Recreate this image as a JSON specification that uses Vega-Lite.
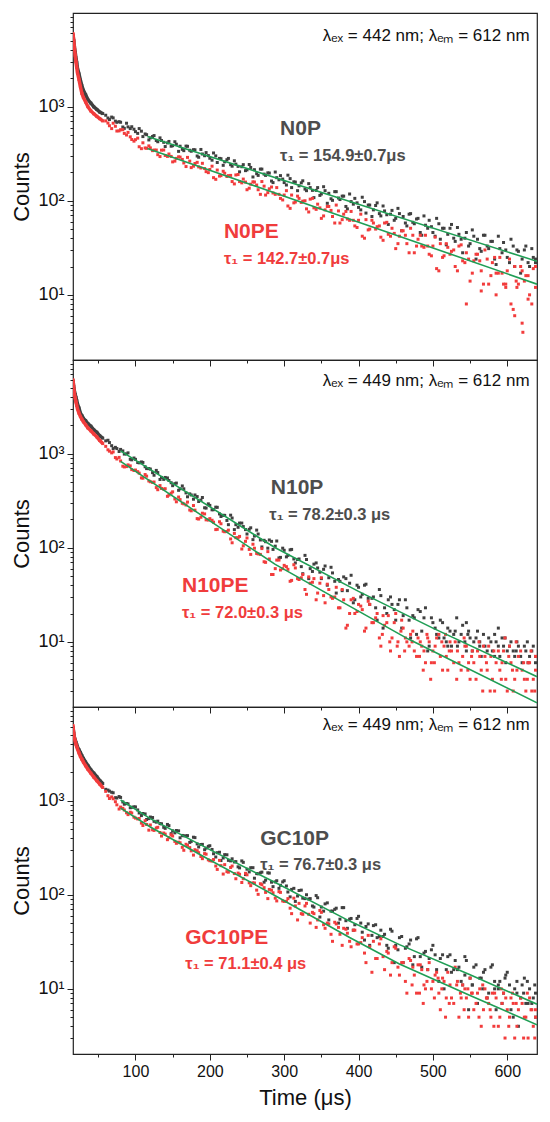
{
  "$schema": "https://vega.github.io/schema/vega-lite/v6.json",
  "background": "white",
  "padding": {"left": 10, "top": 7, "right": 5, "bottom": 5},
  "spacing": 0,
  "bounds": "flush",
  "config": {
    "font": "Liberation Sans",
    "view": {"stroke": "#222", "strokeWidth": 1.2},
    "axis": {"labelFont": "Liberation Sans", "titleFont": "Liberation Sans", "labelColor": "#111", "titleColor": "#111", "tickColor": "#222", "grid": false, "domain": false, "titleFontWeight": "normal", "labelOverlap": false}
  },
  "datasets": {
    "a": [
      {"t":16,"c":5800},{"t":17,"c":5020},{"t":18,"c":4280},{"t":19,"c":3770},{"t":20,"c":3290},{"t":21,"c":2950},{"t":22,"c":2590},{"t":24,"c":2230},{"t":26,"c":1910},{"t":28,"c":1660},{"t":30,"c":1490},{"t":33,"c":1340},{"t":36,"c":1190},{"t":40,"c":1090},{"t":44,"c":995},{"t":48,"c":935},{"t":52,"c":875},{"t":56,"c":845},
      {"t":60,"c":811},{"t":65,"c":730},{"t":70,"c":760},{"t":75,"c":682},{"t":80,"c":683},{"t":85,"c":588},{"t":90,"c":610},{"t":95,"c":612},{"t":100,"c":543},{"t":105,"c":585},{"t":110,"c":481},{"t":115,"c":504},{"t":120,"c":466},{"t":125,"c":493},{"t":130,"c":424},{"t":135,"c":437},{"t":140,"c":377},{"t":145,"c":427},{"t":150,"c":385},{"t":155,"c":399},{"t":160,"c":380},{"t":165,"c":341},{"t":170,"c":379},{"t":175,"c":336},{"t":180,"c":348},{"t":185,"c":290},{"t":190,"c":314},{"t":195,"c":325},{"t":200,"c":283},{"t":205,"c":322},{"t":210,"c":255},{"t":215,"c":280},{"t":220,"c":259},{"t":225,"c":282},{"t":230,"c":233},{"t":235,"c":245},{"t":240,"c":203},{"t":245,"c":242},{"t":250,"c":213},{"t":255,"c":226},{"t":260,"c":214},{"t":265,"c":186},{"t":270,"c":217},{"t":275,"c":186},{"t":280,"c":197},{"t":285,"c":156},{"t":290,"c":176},{"t":295,"c":185},{"t":300,"c":156},{"t":305,"c":187},{"t":310,"c":138},{"t":315,"c":158},{"t":320,"c":144},{"t":325,"c":163},{"t":330,"c":128},{"t":335,"c":138},{"t":340,"c":108},{"t":345,"c":138},{"t":350,"c":118},{"t":355,"c":128},{"t":360,"c":120},{"t":365,"c":101},{"t":370,"c":125},{"t":375,"c":103},{"t":380,"c":112},{"t":385,"c":82},{"t":390,"c":98},{"t":395,"c":106},{"t":400,"c":85},{"t":405,"c":109},{"t":410,"c":74},{"t":415,"c":90},{"t":420,"c":80},{"t":425,"c":95},{"t":430,"c":69},{"t":435,"c":78},{"t":440,"c":56},{"t":445,"c":79},{"t":450,"c":65},{"t":455,"c":73},{"t":460,"c":68},{"t":465,"c":54},{"t":470,"c":73},{"t":475,"c":57},{"t":480,"c":65},{"t":485,"c":43},{"t":490,"c":55},{"t":495,"c":62},{"t":500,"c":46},{"t":505,"c":65},{"t":510,"c":39},{"t":515,"c":51},{"t":520,"c":44},{"t":525,"c":56},{"t":530,"c":37},{"t":535,"c":44},{"t":540,"c":28},{"t":545,"c":46},{"t":550,"c":35},{"t":555,"c":42},{"t":560,"c":39},{"t":565,"c":29},{"t":570,"c":43},{"t":575,"c":31},{"t":580,"c":37},{"t":585,"c":21},{"t":590,"c":31},{"t":595,"c":36},{"t":600,"c":25},{"t":605,"c":39},{"t":610,"c":20},{"t":615,"c":29},{"t":620,"c":24},{"t":625,"c":33},{"t":630,"c":20},{"t":635,"c":25},{"t":638,"c":24},
      {"t":63,"c":758},{"t":68,"c":775},{"t":73,"c":702},{"t":78,"c":693},{"t":83,"c":608},{"t":88,"c":667},{"t":93,"c":585},{"t":98,"c":576},{"t":103,"c":520},{"t":108,"c":549},{"t":113,"c":513},{"t":118,"c":443},{"t":123,"c":482},{"t":128,"c":437},{"t":133,"c":466},{"t":138,"c":418},{"t":143,"c":412},{"t":148,"c":380},{"t":153,"c":424},{"t":158,"c":335},{"t":163,"c":352},{"t":168,"c":381},{"t":173,"c":344},{"t":178,"c":349},{"t":183,"c":299},{"t":188,"c":351},{"t":193,"c":301},{"t":198,"c":302},{"t":203,"c":270},{"t":208,"c":300},{"t":213,"c":282},{"t":218,"c":238},{"t":223,"c":273},{"t":228,"c":242},{"t":233,"c":266},{"t":238,"c":232},{"t":243,"c":230},{"t":248,"c":209},{"t":253,"c":243},{"t":258,"c":179},{"t":263,"c":194},{"t":268,"c":217},{"t":273,"c":192},{"t":278,"c":198},{"t":283,"c":162},{"t":288,"c":202},{"t":293,"c":167},{"t":298,"c":170},{"t":303,"c":147},{"t":308,"c":172},{"t":313,"c":159},{"t":318,"c":128},{"t":323,"c":155},{"t":328,"c":133},{"t":333,"c":152},{"t":338,"c":129},{"t":343,"c":129},{"t":348,"c":114},{"t":353,"c":141},{"t":358,"c":94},{"t":363,"c":105},{"t":368,"c":125},{"t":373,"c":107},{"t":378,"c":112},{"t":383,"c":87},{"t":388,"c":118},{"t":393,"c":92},{"t":398,"c":95},{"t":403,"c":80},{"t":408,"c":98},{"t":413,"c":90},{"t":418,"c":68},{"t":423,"c":89},{"t":428,"c":73},{"t":433,"c":88},{"t":438,"c":71},{"t":443,"c":72},{"t":448,"c":62},{"t":453,"c":83},{"t":458,"c":48},{"t":463,"c":58},{"t":468,"c":72},{"t":473,"c":59},{"t":478,"c":64},{"t":483,"c":46},{"t":488,"c":69},{"t":493,"c":51},{"t":498,"c":53},{"t":503,"c":42},{"t":508,"c":57},{"t":513,"c":51},{"t":518,"c":34},{"t":523,"c":51},{"t":528,"c":40},{"t":533,"c":52},{"t":538,"c":39},{"t":543,"c":40},{"t":548,"c":33},{"t":553,"c":49},{"t":558,"c":24},{"t":563,"c":31},{"t":568,"c":43},{"t":573,"c":33},{"t":578,"c":37},{"t":583,"c":24},{"t":588,"c":42},{"t":593,"c":28},{"t":598,"c":30},{"t":603,"c":22},{"t":608,"c":33},{"t":613,"c":30},{"t":618,"c":17},{"t":623,"c":30},{"t":628,"c":22},{"t":633,"c":31},{"t":638,"c":22}
    ],
    "b": [
      {"t":16,"c":6000},{"t":17,"c":5000},{"t":18,"c":4200},{"t":19,"c":3500},{"t":20,"c":3000},{"t":21,"c":2620},{"t":22,"c":2300},{"t":24,"c":1950},{"t":26,"c":1620},{"t":28,"c":1380},{"t":30,"c":1250},{"t":33,"c":1120},{"t":36,"c":1000},{"t":40,"c":900},{"t":44,"c":840},{"t":48,"c":790},{"t":52,"c":745},{"t":56,"c":705},
      {"t":60,"c":706},{"t":65,"c":627},{"t":70,"c":667},{"t":75,"c":551},{"t":80,"c":569},{"t":85,"c":520},{"t":90,"c":533},{"t":95,"c":448},{"t":100,"c":446},{"t":105,"c":375},{"t":110,"c":413},{"t":115,"c":361},{"t":120,"c":365},{"t":125,"c":346},{"t":130,"c":309},{"t":135,"c":345},{"t":140,"c":303},{"t":145,"c":314},{"t":150,"c":259},{"t":155,"c":282},{"t":160,"c":291},{"t":165,"c":252},{"t":170,"c":289},{"t":175,"c":225},{"t":180,"c":249},{"t":185,"c":229},{"t":190,"c":250},{"t":195,"c":204},{"t":200,"c":215},{"t":205,"c":176},{"t":210,"c":212},{"t":215,"c":185},{"t":220,"c":196},{"t":225,"c":185},{"t":230,"c":160},{"t":235,"c":188},{"t":240,"c":160},{"t":245,"c":170},{"t":250,"c":131},{"t":255,"c":150},{"t":260,"c":158},{"t":265,"c":131},{"t":270,"c":160},{"t":275,"c":115},{"t":280,"c":134},{"t":285,"c":121},{"t":290,"c":138},{"t":295,"c":106},{"t":300,"c":115},{"t":305,"c":88},{"t":310,"c":115},{"t":315,"c":97},{"t":320,"c":106},{"t":325,"c":99},{"t":330,"c":82},{"t":335,"c":104},{"t":340,"c":84},{"t":345,"c":92},{"t":350,"c":65},{"t":355,"c":80},{"t":360,"c":87},{"t":365,"c":68},{"t":370,"c":90},{"t":375,"c":58},{"t":380,"c":72},{"t":385,"c":64},{"t":390,"c":77},{"t":395,"c":54},{"t":400,"c":62},{"t":405,"c":42},{"t":410,"c":63},{"t":415,"c":50},{"t":420,"c":58},{"t":425,"c":53},{"t":430,"c":41},{"t":435,"c":58},{"t":440,"c":44},{"t":445,"c":51},{"t":450,"c":31},{"t":455,"c":42},{"t":460,"c":48},{"t":465,"c":35},{"t":470,"c":51},{"t":475,"c":28},{"t":480,"c":39},{"t":485,"c":33},{"t":490,"c":43},{"t":495,"c":27},{"t":500,"c":33},{"t":505,"c":19},{"t":510,"c":35},{"t":515,"c":26},{"t":520,"c":32},{"t":525,"c":29},{"t":530,"c":20},{"t":535,"c":33},{"t":540,"c":23},{"t":545,"c":28},{"t":550,"c":14},{"t":555,"c":23},{"t":560,"c":27},{"t":565,"c":18},{"t":570,"c":30},{"t":575,"c":13},{"t":580,"c":22},{"t":585,"c":17},{"t":590,"c":25},{"t":595,"c":13},{"t":600,"c":18},{"t":605,"c":8},{"t":610,"c":20},{"t":615,"c":13},{"t":620,"c":18},{"t":625,"c":16},{"t":630,"c":10},{"t":635,"c":19},{"t":638,"c":12},
      {"t":545,"c":8},{"t":610,"c":6},{"t":620,"c":5},{"t":621,"c":4},{"t":565,"c":11},{"t":585,"c":10},{"t":598,"c":12},{"t":628,"c":9},{"t":612,"c":14},
      {"t":63,"c":670},{"t":68,"c":585},{"t":73,"c":619},{"t":78,"c":553},{"t":83,"c":569},{"t":88,"c":500},{"t":93,"c":478},{"t":98,"c":430},{"t":103,"c":463},{"t":108,"c":358},{"t":113,"c":364},{"t":118,"c":383},{"t":123,"c":341},{"t":128,"c":346},{"t":133,"c":295},{"t":138,"c":346},{"t":143,"c":296},{"t":148,"c":296},{"t":153,"c":264},{"t":158,"c":293},{"t":163,"c":275},{"t":168,"c":231},{"t":173,"c":264},{"t":178,"c":233},{"t":183,"c":256},{"t":188,"c":223},{"t":193,"c":220},{"t":198,"c":199},{"t":203,"c":233},{"t":208,"c":169},{"t":213,"c":183},{"t":218,"c":206},{"t":223,"c":181},{"t":228,"c":186},{"t":233,"c":151},{"t":238,"c":190},{"t":243,"c":155},{"t":248,"c":158},{"t":253,"c":136},{"t":258,"c":159},{"t":263,"c":147},{"t":268,"c":117},{"t":273,"c":143},{"t":278,"c":122},{"t":283,"c":140},{"t":288,"c":117},{"t":293,"c":117},{"t":298,"c":102},{"t":303,"c":128},{"t":308,"c":83},{"t":313,"c":95},{"t":318,"c":112},{"t":323,"c":96},{"t":328,"c":100},{"t":333,"c":76},{"t":338,"c":106},{"t":343,"c":81},{"t":348,"c":84},{"t":353,"c":69},{"t":358,"c":87},{"t":363,"c":79},{"t":368,"c":58},{"t":373,"c":78},{"t":378,"c":63},{"t":383,"c":77},{"t":388,"c":62},{"t":393,"c":62},{"t":398,"c":52},{"t":403,"c":72},{"t":408,"c":40},{"t":413,"c":49},{"t":418,"c":62},{"t":423,"c":50},{"t":428,"c":54},{"t":433,"c":38},{"t":438,"c":59},{"t":443,"c":42},{"t":448,"c":45},{"t":453,"c":35},{"t":458,"c":48},{"t":463,"c":43},{"t":468,"c":28},{"t":473,"c":43},{"t":478,"c":33},{"t":483,"c":43},{"t":488,"c":32},{"t":493,"c":33},{"t":498,"c":26},{"t":503,"c":41},{"t":508,"c":18},{"t":513,"c":25},{"t":518,"c":35},{"t":523,"c":27},{"t":528,"c":30},{"t":533,"c":18},{"t":538,"c":34},{"t":543,"c":22},{"t":548,"c":24},{"t":553,"c":17},{"t":558,"c":27},{"t":563,"c":23},{"t":568,"c":13},{"t":573,"c":24},{"t":578,"c":16},{"t":583,"c":25},{"t":588,"c":17},{"t":593,"c":17},{"t":598,"c":13},{"t":603,"c":24},{"t":608,"c":7},{"t":613,"c":12},{"t":618,"c":20},{"t":623,"c":14},{"t":628,"c":16},{"t":633,"c":8},{"t":638,"c":20}
    ],
    "c": [
      {"t":16,"c":6000},{"t":17,"c":5150},{"t":18,"c":4580},{"t":19,"c":4270},{"t":20,"c":3960},{"t":21,"c":3660},{"t":22,"c":3390},{"t":24,"c":3060},{"t":26,"c":2690},{"t":28,"c":2530},{"t":30,"c":2370},{"t":33,"c":2240},{"t":36,"c":2090},{"t":40,"c":1960},{"t":44,"c":1790},{"t":48,"c":1690},{"t":52,"c":1550},{"t":56,"c":1460},
      {"t":60,"c":1369},{"t":65,"c":1312},{"t":70,"c":1133},{"t":75,"c":1133},{"t":80,"c":1110},{"t":85,"c":990},{"t":90,"c":1020},{"t":95,"c":860},{"t":100,"c":870},{"t":105,"c":799},{"t":110,"c":807},{"t":115,"c":694},{"t":120,"c":686},{"t":125,"c":590},{"t":130,"c":630},{"t":135,"c":559},{"t":140,"c":559},{"t":145,"c":519},{"t":150,"c":457},{"t":155,"c":487},{"t":160,"c":423},{"t":165,"c":423},{"t":170,"c":348},{"t":175,"c":364},{"t":180,"c":364},{"t":185,"c":310},{"t":190,"c":342},{"t":195,"c":264},{"t":200,"c":282},{"t":205,"c":254},{"t":210,"c":269},{"t":215,"c":215},{"t":220,"c":221},{"t":225,"c":176},{"t":230,"c":207},{"t":235,"c":176},{"t":240,"c":183},{"t":245,"c":168},{"t":250,"c":140},{"t":255,"c":163},{"t":260,"c":133},{"t":265,"c":140},{"t":270,"c":102},{"t":275,"c":116},{"t":280,"c":121},{"t":285,"c":96},{"t":290,"c":118},{"t":295,"c":79},{"t":300,"c":94},{"t":305,"c":83},{"t":310,"c":96},{"t":315,"c":69},{"t":320,"c":76},{"t":325,"c":53},{"t":330,"c":75},{"t":335,"c":60},{"t":340,"c":67},{"t":345,"c":61},{"t":350,"c":47},{"t":355,"c":64},{"t":360,"c":48},{"t":365,"c":54},{"t":370,"c":33},{"t":375,"c":44},{"t":380,"c":49},{"t":385,"c":35},{"t":390,"c":51},{"t":395,"c":28},{"t":400,"c":38},{"t":405,"c":32},{"t":410,"c":41},{"t":415,"c":25},{"t":420,"c":30},{"t":425,"c":17},{"t":430,"c":31},{"t":435,"c":23},{"t":440,"c":28},{"t":445,"c":25},{"t":450,"c":17},{"t":455,"c":28},{"t":460,"c":19},{"t":465,"c":23},{"t":470,"c":11},{"t":475,"c":18},{"t":480,"c":22},{"t":485,"c":13},{"t":490,"c":23},{"t":495,"c":9},{"t":500,"c":16},{"t":505,"c":12},{"t":510,"c":17},{"t":515,"c":11},{"t":520,"c":14},{"t":525,"c":9},{"t":530,"c":13},{"t":535,"c":10},{"t":540,"c":15},{"t":545,"c":8},{"t":550,"c":11},{"t":555,"c":10},{"t":560,"c":13},{"t":565,"c":7},{"t":570,"c":9},{"t":575,"c":11},{"t":580,"c":8},{"t":585,"c":10},{"t":590,"c":7},{"t":595,"c":9},{"t":600,"c":8},{"t":605,"c":10},{"t":610,"c":7},{"t":615,"c":9},{"t":620,"c":6},{"t":625,"c":8},{"t":630,"c":7},{"t":635,"c":9},{"t":638,"c":6},
      {"t":520,"c":9},{"t":547,"c":12},{"t":563,"c":10},{"t":583,"c":12},{"t":597,"c":11},{"t":612,"c":8},{"t":627,"c":10},{"t":545,"c":16},{"t":588,"c":14},{"t":532,"c":18},
      {"t":63,"c":1389},{"t":68,"c":1216},{"t":73,"c":1167},{"t":78,"c":1055},{"t":83,"c":1070},{"t":88,"c":994},{"t":93,"c":871},{"t":98,"c":899},{"t":103,"c":806},{"t":108,"c":817},{"t":113,"c":726},{"t":118,"c":694},{"t":123,"c":629},{"t":128,"c":664},{"t":133,"c":532},{"t":138,"c":533},{"t":143,"c":552},{"t":148,"c":491},{"t":153,"c":480},{"t":158,"c":408},{"t":163,"c":454},{"t":168,"c":383},{"t":173,"c":374},{"t":178,"c":328},{"t":183,"c":350},{"t":188,"c":321},{"t":193,"c":266},{"t":198,"c":293},{"t":203,"c":253},{"t":208,"c":270},{"t":213,"c":229},{"t":218,"c":221},{"t":223,"c":195},{"t":228,"c":222},{"t":233,"c":156},{"t":238,"c":165},{"t":243,"c":183},{"t":248,"c":156},{"t":253,"c":157},{"t":258,"c":122},{"t":263,"c":154},{"t":268,"c":121},{"t":273,"c":120},{"t":278,"c":99},{"t":283,"c":117},{"t":288,"c":104},{"t":293,"c":78},{"t":298,"c":99},{"t":303,"c":80},{"t":308,"c":95},{"t":313,"c":76},{"t":318,"c":75},{"t":323,"c":63},{"t":328,"c":83},{"t":333,"c":47},{"t":338,"c":56},{"t":343,"c":69},{"t":348,"c":55},{"t":353,"c":59},{"t":358,"c":40},{"t":363,"c":62},{"t":368,"c":44},{"t":373,"c":46},{"t":378,"c":35},{"t":383,"c":47},{"t":388,"c":42},{"t":393,"c":26},{"t":398,"c":40},{"t":403,"c":30},{"t":408,"c":40},{"t":413,"c":29},{"t":418,"c":29},{"t":423,"c":23},{"t":428,"c":36},{"t":433,"c":14},{"t":438,"c":20},{"t":443,"c":30},{"t":448,"c":22},{"t":453,"c":25},{"t":458,"c":14},{"t":463,"c":28},{"t":468,"c":17},{"t":473,"c":19},{"t":478,"c":12},{"t":483,"c":21},{"t":488,"c":18},{"t":493,"c":8},{"t":498,"c":18},{"t":503,"c":14},{"t":508,"c":11},{"t":513,"c":16},{"t":518,"c":10},{"t":523,"c":13},{"t":528,"c":12},{"t":533,"c":9},{"t":538,"c":12},{"t":543,"c":10},{"t":548,"c":13},{"t":553,"c":8},{"t":558,"c":11},{"t":563,"c":9},{"t":568,"c":12},{"t":573,"c":8},{"t":578,"c":10},{"t":583,"c":7},{"t":588,"c":9},{"t":593,"c":11},{"t":598,"c":6},{"t":603,"c":9},{"t":608,"c":8},{"t":613,"c":10},{"t":618,"c":7},{"t":623,"c":9},{"t":628,"c":6},{"t":633,"c":8},{"t":638,"c":7}
    ],
    "d": [
      {"t":16,"c":6100},{"t":17,"c":5000},{"t":18,"c":4300},{"t":19,"c":3900},{"t":20,"c":3550},{"t":21,"c":3250},{"t":22,"c":3000},{"t":24,"c":2700},{"t":26,"c":2480},{"t":28,"c":2320},{"t":30,"c":2180},{"t":33,"c":2030},{"t":36,"c":1880},{"t":40,"c":1750},{"t":44,"c":1620},{"t":48,"c":1510},{"t":52,"c":1380},{"t":56,"c":1280},
      {"t":60,"c":1196},{"t":65,"c":1063},{"t":70,"c":1044},{"t":75,"c":878},{"t":80,"c":837},{"t":85,"c":723},{"t":90,"c":760},{"t":95,"c":677},{"t":100,"c":670},{"t":105,"c":621},{"t":110,"c":549},{"t":115,"c":577},{"t":120,"c":503},{"t":125,"c":500},{"t":130,"c":414},{"t":135,"c":427},{"t":140,"c":424},{"t":145,"c":363},{"t":150,"c":393},{"t":155,"c":308},{"t":160,"c":325},{"t":165,"c":293},{"t":170,"c":306},{"t":175,"c":247},{"t":180,"c":251},{"t":185,"c":202},{"t":190,"c":233},{"t":195,"c":198},{"t":200,"c":204},{"t":205,"c":187},{"t":210,"c":157},{"t":215,"c":180},{"t":220,"c":148},{"t":225,"c":154},{"t":230,"c":113},{"t":235,"c":128},{"t":240,"c":132},{"t":245,"c":105},{"t":250,"c":127},{"t":255,"c":85},{"t":260,"c":99},{"t":265,"c":86},{"t":270,"c":98},{"t":275,"c":70},{"t":280,"c":76},{"t":285,"c":52},{"t":290,"c":74},{"t":295,"c":58},{"t":300,"c":65},{"t":305,"c":59},{"t":310,"c":45},{"t":315,"c":61},{"t":320,"c":46},{"t":325,"c":52},{"t":330,"c":32},{"t":335,"c":42},{"t":340,"c":47},{"t":345,"c":33},{"t":350,"c":48},{"t":355,"c":26},{"t":360,"c":36},{"t":365,"c":29},{"t":370,"c":38},{"t":375,"c":23},{"t":380,"c":28},{"t":385,"c":15},{"t":390,"c":28},{"t":395,"c":20},{"t":400,"c":25},{"t":405,"c":22},{"t":410,"c":14},{"t":415,"c":25},{"t":420,"c":16},{"t":425,"c":20},{"t":430,"c":9},{"t":435,"c":15},{"t":440,"c":19},{"t":445,"c":11},{"t":450,"c":20},{"t":455,"c":7},{"t":460,"c":14},{"t":465,"c":10},{"t":470,"c":12},{"t":475,"c":8},{"t":480,"c":11},{"t":485,"c":9},{"t":490,"c":6},{"t":495,"c":10},{"t":500,"c":8},{"t":505,"c":11},{"t":510,"c":7},{"t":515,"c":9},{"t":520,"c":5},{"t":525,"c":8},{"t":530,"c":10},{"t":535,"c":6},{"t":540,"c":7},{"t":545,"c":9},{"t":550,"c":4},{"t":555,"c":6},{"t":560,"c":8},{"t":565,"c":5},{"t":570,"c":7},{"t":575,"c":9},{"t":580,"c":4},{"t":585,"c":6},{"t":590,"c":5},{"t":595,"c":8},{"t":600,"c":3},{"t":605,"c":6},{"t":610,"c":4},{"t":615,"c":7},{"t":620,"c":5},{"t":625,"c":3},{"t":630,"c":6},{"t":635,"c":4},{"t":638,"c":5},
      {"t":432,"c":12},{"t":442,"c":10},{"t":452,"c":9},{"t":462,"c":8},{"t":472,"c":10},{"t":482,"c":7},{"t":492,"c":12},{"t":502,"c":6},{"t":512,"c":10},{"t":522,"c":8},{"t":532,"c":4},{"t":542,"c":11},{"t":552,"c":7},{"t":562,"c":10},{"t":572,"c":6},{"t":582,"c":8},{"t":592,"c":4},{"t":602,"c":7},{"t":612,"c":10},{"t":622,"c":6},{"t":632,"c":8},{"t":457,"c":13},{"t":487,"c":5},{"t":517,"c":12},{"t":547,"c":5},{"t":577,"c":3},{"t":607,"c":5},{"t":637,"c":3},{"t":497,"c":4},{"t":567,"c":3},{"t":627,"c":4},{"t":597,"c":11},
      {"t":63,"c":1100},{"t":68,"c":1020},{"t":73,"c":909},{"t":78,"c":913},{"t":83,"c":736},{"t":88,"c":729},{"t":93,"c":742},{"t":98,"c":662},{"t":103,"c":644},{"t":108,"c":553},{"t":113,"c":600},{"t":118,"c":513},{"t":123,"c":495},{"t":128,"c":436},{"t":133,"c":458},{"t":138,"c":420},{"t":143,"c":352},{"t":148,"c":380},{"t":153,"c":330},{"t":158,"c":346},{"t":163,"c":297},{"t":168,"c":285},{"t":173,"c":252},{"t":178,"c":281},{"t":183,"c":204},{"t":188,"c":211},{"t":193,"c":229},{"t":198,"c":197},{"t":203,"c":196},{"t":208,"c":156},{"t":213,"c":189},{"t":218,"c":150},{"t":223,"c":149},{"t":228,"c":124},{"t":233,"c":142},{"t":238,"c":128},{"t":243,"c":97},{"t":248,"c":117},{"t":253,"c":96},{"t":258,"c":109},{"t":263,"c":87},{"t":268,"c":85},{"t":273,"c":71},{"t":278,"c":91},{"t":283,"c":52},{"t":288,"c":60},{"t":293,"c":74},{"t":298,"c":60},{"t":303,"c":63},{"t":308,"c":44},{"t":313,"c":66},{"t":318,"c":47},{"t":323,"c":48},{"t":328,"c":36},{"t":333,"c":49},{"t":338,"c":43},{"t":343,"c":28},{"t":348,"c":42},{"t":353,"c":31},{"t":358,"c":41},{"t":363,"c":30},{"t":368,"c":30},{"t":373,"c":23},{"t":378,"c":36},{"t":383,"c":14},{"t":388,"c":20},{"t":393,"c":29},{"t":398,"c":21},{"t":403,"c":24},{"t":408,"c":13},{"t":413,"c":27},{"t":418,"c":16},{"t":423,"c":18},{"t":428,"c":11},{"t":433,"c":19},{"t":438,"c":16},{"t":443,"c":8},{"t":448,"c":16},{"t":453,"c":10},{"t":458,"c":17},{"t":463,"c":11},{"t":468,"c":9},{"t":473,"c":13},{"t":478,"c":7},{"t":483,"c":10},{"t":488,"c":8},{"t":493,"c":11},{"t":498,"c":6},{"t":503,"c":9},{"t":508,"c":12},{"t":513,"c":5},{"t":518,"c":7},{"t":523,"c":10},{"t":528,"c":6},{"t":533,"c":8},{"t":538,"c":5},{"t":543,"c":9},{"t":548,"c":6},{"t":553,"c":8},{"t":558,"c":4},{"t":563,"c":7},{"t":568,"c":9},{"t":573,"c":5},{"t":578,"c":7},{"t":583,"c":3},{"t":588,"c":8},{"t":593,"c":6},{"t":598,"c":4},{"t":603,"c":9},{"t":608,"c":3},{"t":613,"c":5},{"t":618,"c":8},{"t":623,"c":4},{"t":628,"c":6},{"t":633,"c":3},{"t":638,"c":7}
    ],
    "e": [
      {"t":16,"c":6000},{"t":17,"c":5200},{"t":18,"c":4700},{"t":19,"c":4400},{"t":20,"c":4170},{"t":21,"c":3950},{"t":22,"c":3750},{"t":24,"c":3480},{"t":26,"c":3240},{"t":28,"c":3000},{"t":30,"c":2810},{"t":33,"c":2570},{"t":36,"c":2370},{"t":40,"c":2130},{"t":44,"c":1960},{"t":48,"c":1800},{"t":52,"c":1640},{"t":56,"c":1520},
      {"t":60,"c":1320},{"t":65,"c":1263},{"t":70,"c":1213},{"t":75,"c":1068},{"t":80,"c":1083},{"t":85,"c":917},{"t":90,"c":925},{"t":95,"c":851},{"t":100,"c":858},{"t":105,"c":740},{"t":110,"c":731},{"t":115,"c":631},{"t":120,"c":670},{"t":125,"c":603},{"t":130,"c":606},{"t":135,"c":568},{"t":140,"c":508},{"t":145,"c":543},{"t":150,"c":478},{"t":155,"c":482},{"t":160,"c":403},{"t":165,"c":423},{"t":170,"c":425},{"t":175,"c":369},{"t":180,"c":405},{"t":185,"c":322},{"t":190,"c":343},{"t":195,"c":313},{"t":200,"c":332},{"t":205,"c":273},{"t":210,"c":280},{"t":215,"c":231},{"t":220,"c":267},{"t":225,"c":232},{"t":230,"c":241},{"t":235,"c":225},{"t":240,"c":193},{"t":245,"c":221},{"t":250,"c":187},{"t":255,"c":194},{"t":260,"c":150},{"t":265,"c":167},{"t":270,"c":174},{"t":275,"c":143},{"t":280,"c":170},{"t":285,"c":122},{"t":290,"c":141},{"t":295,"c":126},{"t":300,"c":141},{"t":305,"c":107},{"t":310,"c":114},{"t":315,"c":85},{"t":320,"c":111},{"t":325,"c":92},{"t":330,"c":100},{"t":335,"c":91},{"t":340,"c":74},{"t":345,"c":93},{"t":350,"c":74},{"t":355,"c":80},{"t":360,"c":54},{"t":365,"c":67},{"t":370,"c":72},{"t":375,"c":55},{"t":380,"c":73},{"t":385,"c":44},{"t":390,"c":56},{"t":395,"c":48},{"t":400,"c":59},{"t":405,"c":40},{"t":410,"c":46},{"t":415,"c":29},{"t":420,"c":47},{"t":425,"c":35},{"t":430,"c":42},{"t":435,"c":38},{"t":440,"c":27},{"t":445,"c":41},{"t":450,"c":29},{"t":455,"c":35},{"t":460,"c":19},{"t":465,"c":28},{"t":470,"c":33},{"t":475,"c":22},{"t":480,"c":35},{"t":485,"c":17},{"t":490,"c":25},{"t":495,"c":21},{"t":500,"c":29},{"t":505,"c":16},{"t":510,"c":21},{"t":515,"c":10},{"t":520,"c":22},{"t":525,"c":15},{"t":530,"c":20},{"t":535,"c":17},{"t":540,"c":11},{"t":545,"c":20},{"t":550,"c":13},{"t":555,"c":17},{"t":560,"c":7},{"t":565,"c":13},{"t":570,"c":16},{"t":575,"c":9},{"t":580,"c":18},{"t":585,"c":6},{"t":590,"c":12},{"t":595,"c":9},{"t":600,"c":15},{"t":605,"c":6},{"t":610,"c":10},{"t":615,"c":4},{"t":620,"c":11},{"t":625,"c":7},{"t":630,"c":10},{"t":635,"c":8},{"t":638,"c":9},
      {"t":553,"c":11},{"t":567,"c":10},{"t":583,"c":12},{"t":597,"c":13},{"t":613,"c":9},{"t":627,"c":12},{"t":637,"c":11},{"t":543,"c":14},{"t":588,"c":10},{"t":622,"c":9},
      {"t":63,"c":1296},{"t":68,"c":1229},{"t":73,"c":1075},{"t":78,"c":1106},{"t":83,"c":969},{"t":88,"c":934},{"t":93,"c":841},{"t":98,"c":860},{"t":103,"c":797},{"t":108,"c":694},{"t":113,"c":723},{"t":118,"c":645},{"t":123,"c":662},{"t":128,"c":591},{"t":133,"c":570},{"t":138,"c":521},{"t":143,"c":559},{"t":148,"c":446},{"t":153,"c":455},{"t":158,"c":478},{"t":163,"c":427},{"t":168,"c":423},{"t":173,"c":360},{"t":178,"c":409},{"t":183,"c":347},{"t":188,"c":342},{"t":193,"c":301},{"t":198,"c":327},{"t":203,"c":303},{"t":208,"c":252},{"t":213,"c":283},{"t":218,"c":246},{"t":223,"c":266},{"t":228,"c":229},{"t":233,"c":223},{"t":238,"c":198},{"t":243,"c":229},{"t":248,"c":164},{"t":253,"c":175},{"t":258,"c":194},{"t":263,"c":168},{"t":268,"c":171},{"t":273,"c":136},{"t":278,"c":171},{"t":283,"c":136},{"t":288,"c":137},{"t":293,"c":117},{"t":298,"c":137},{"t":303,"c":124},{"t":308,"c":95},{"t":313,"c":117},{"t":318,"c":97},{"t":323,"c":112},{"t":328,"c":91},{"t":333,"c":90},{"t":338,"c":76},{"t":343,"c":98},{"t":348,"c":58},{"t":353,"c":67},{"t":358,"c":82},{"t":363,"c":67},{"t":368,"c":70},{"t":373,"c":50},{"t":378,"c":73},{"t":383,"c":53},{"t":388,"c":55},{"t":393,"c":42},{"t":398,"c":56},{"t":403,"c":50},{"t":408,"c":33},{"t":413,"c":49},{"t":418,"c":37},{"t":423,"c":48},{"t":428,"c":36},{"t":433,"c":36},{"t":438,"c":29},{"t":443,"c":43},{"t":448,"c":19},{"t":453,"c":26},{"t":458,"c":36},{"t":463,"c":27},{"t":468,"c":30},{"t":473,"c":18},{"t":478,"c":34},{"t":483,"c":22},{"t":488,"c":24},{"t":493,"c":16},{"t":498,"c":26},{"t":503,"c":23},{"t":508,"c":12},{"t":513,"c":23},{"t":518,"c":16},{"t":523,"c":23},{"t":528,"c":16},{"t":533,"c":16},{"t":538,"c":12},{"t":543,"c":22},{"t":548,"c":6},{"t":553,"c":11},{"t":558,"c":18},{"t":563,"c":13},{"t":568,"c":15},{"t":573,"c":8},{"t":578,"c":17},{"t":583,"c":10},{"t":588,"c":11},{"t":593,"c":7},{"t":598,"c":14},{"t":603,"c":11},{"t":608,"c":5},{"t":613,"c":12},{"t":618,"c":8},{"t":623,"c":13},{"t":628,"c":7},{"t":633,"c":7},{"t":638,"c":5}
    ],
    "f": [
      {"t":16,"c":6300},{"t":17,"c":5200},{"t":18,"c":4650},{"t":19,"c":4300},{"t":20,"c":3980},{"t":21,"c":3750},{"t":22,"c":3550},{"t":24,"c":3230},{"t":26,"c":2950},{"t":28,"c":2750},{"t":30,"c":2570},{"t":33,"c":2350},{"t":36,"c":2160},{"t":40,"c":1960},{"t":44,"c":1780},{"t":48,"c":1630},{"t":52,"c":1500},{"t":56,"c":1380},
      {"t":60,"c":1256},{"t":65,"c":1055},{"t":70,"c":1048},{"t":75,"c":903},{"t":80,"c":855},{"t":85,"c":796},{"t":90,"c":711},{"t":95,"c":740},{"t":100,"c":653},{"t":105,"c":647},{"t":110,"c":545},{"t":115,"c":558},{"t":120,"c":552},{"t":125,"c":483},{"t":130,"c":521},{"t":135,"c":421},{"t":140,"c":441},{"t":145,"c":404},{"t":150,"c":421},{"t":155,"c":352},{"t":160,"c":357},{"t":165,"c":297},{"t":170,"c":335},{"t":175,"c":293},{"t":180,"c":301},{"t":185,"c":280},{"t":190,"c":242},{"t":195,"c":270},{"t":200,"c":230},{"t":205,"c":237},{"t":210,"c":186},{"t":215,"c":204},{"t":220,"c":209},{"t":225,"c":174},{"t":230,"c":202},{"t":235,"c":148},{"t":240,"c":165},{"t":245,"c":148},{"t":250,"c":163},{"t":255,"c":125},{"t":260,"c":133},{"t":265,"c":101},{"t":270,"c":128},{"t":275,"c":106},{"t":280,"c":114},{"t":285,"c":105},{"t":290,"c":86},{"t":295,"c":106},{"t":300,"c":85},{"t":305,"c":91},{"t":310,"c":63},{"t":315,"c":76},{"t":320,"c":81},{"t":325,"c":62},{"t":330,"c":81},{"t":335,"c":50},{"t":340,"c":63},{"t":345,"c":54},{"t":350,"c":65},{"t":355,"c":44},{"t":360,"c":49},{"t":365,"c":32},{"t":370,"c":49},{"t":375,"c":38},{"t":380,"c":44},{"t":385,"c":39},{"t":390,"c":28},{"t":395,"c":42},{"t":400,"c":30},{"t":405,"c":35},{"t":410,"c":19},{"t":415,"c":28},{"t":420,"c":32},{"t":425,"c":21},{"t":430,"c":34},{"t":435,"c":16},{"t":440,"c":24},{"t":445,"c":19},{"t":450,"c":27},{"t":455,"c":14},{"t":460,"c":19},{"t":465,"c":9},{"t":470,"c":20},{"t":475,"c":14},{"t":480,"c":18},{"t":485,"c":16},{"t":490,"c":10},{"t":495,"c":19},{"t":500,"c":12},{"t":505,"c":15},{"t":510,"c":6},{"t":515,"c":12},{"t":520,"c":15},{"t":525,"c":8},{"t":530,"c":17},{"t":535,"c":5},{"t":540,"c":11},{"t":545,"c":8},{"t":550,"c":13},{"t":555,"c":6},{"t":560,"c":9},{"t":565,"c":4},{"t":570,"c":10},{"t":575,"c":7},{"t":580,"c":9},{"t":585,"c":8},{"t":590,"c":5},{"t":595,"c":9},{"t":600,"c":6},{"t":605,"c":8},{"t":610,"c":3},{"t":615,"c":6},{"t":620,"c":7},{"t":625,"c":5},{"t":630,"c":8},{"t":635,"c":4},{"t":638,"c":6},
      {"t":472,"c":11},{"t":482,"c":9},{"t":492,"c":12},{"t":502,"c":8},{"t":512,"c":10},{"t":522,"c":7},{"t":532,"c":11},{"t":542,"c":6},{"t":552,"c":9},{"t":562,"c":5},{"t":572,"c":8},{"t":582,"c":4},{"t":592,"c":10},{"t":602,"c":4},{"t":612,"c":7},{"t":622,"c":3},{"t":632,"c":6},{"t":487,"c":7},{"t":517,"c":5},{"t":547,"c":10},{"t":577,"c":6},{"t":607,"c":9},{"t":637,"c":3},{"t":597,"c":3},{"t":627,"c":9},{"t":567,"c":11},{"t":537,"c":9},{"t":507,"c":13},
      {"t":63,"c":1129},{"t":68,"c":1096},{"t":73,"c":975},{"t":78,"c":815},{"t":83,"c":830},{"t":88,"c":743},{"t":93,"c":754},{"t":98,"c":668},{"t":103,"c":639},{"t":108,"c":578},{"t":113,"c":612},{"t":118,"c":486},{"t":123,"c":491},{"t":128,"c":513},{"t":133,"c":459},{"t":138,"c":453},{"t":143,"c":385},{"t":148,"c":434},{"t":153,"c":369},{"t":158,"c":362},{"t":163,"c":319},{"t":168,"c":344},{"t":173,"c":317},{"t":178,"c":264},{"t":183,"c":294},{"t":188,"c":255},{"t":193,"c":274},{"t":198,"c":235},{"t":203,"c":228},{"t":208,"c":202},{"t":213,"c":232},{"t":218,"c":166},{"t":223,"c":176},{"t":228,"c":195},{"t":233,"c":168},{"t":238,"c":170},{"t":243,"c":135},{"t":248,"c":169},{"t":253,"c":134},{"t":258,"c":134},{"t":263,"c":112},{"t":268,"c":131},{"t":273,"c":119},{"t":278,"c":91},{"t":283,"c":112},{"t":288,"c":92},{"t":293,"c":108},{"t":298,"c":86},{"t":303,"c":85},{"t":308,"c":72},{"t":313,"c":92},{"t":318,"c":54},{"t":323,"c":63},{"t":328,"c":76},{"t":333,"c":62},{"t":338,"c":65},{"t":343,"c":45},{"t":348,"c":68},{"t":353,"c":48},{"t":358,"c":50},{"t":363,"c":38},{"t":368,"c":51},{"t":373,"c":45},{"t":378,"c":29},{"t":383,"c":43},{"t":388,"c":32},{"t":393,"c":42},{"t":398,"c":30},{"t":403,"c":31},{"t":408,"c":24},{"t":413,"c":37},{"t":418,"c":15},{"t":423,"c":21},{"t":428,"c":30},{"t":433,"c":22},{"t":438,"c":25},{"t":443,"c":14},{"t":448,"c":28},{"t":453,"c":17},{"t":458,"c":19},{"t":463,"c":12},{"t":468,"c":21},{"t":473,"c":17},{"t":478,"c":9},{"t":483,"c":18},{"t":488,"c":11},{"t":493,"c":16},{"t":498,"c":10},{"t":503,"c":14},{"t":508,"c":9},{"t":513,"c":13},{"t":518,"c":8},{"t":523,"c":11},{"t":528,"c":7},{"t":533,"c":12},{"t":538,"c":8},{"t":543,"c":10},{"t":548,"c":5},{"t":553,"c":9},{"t":558,"c":7},{"t":563,"c":10},{"t":568,"c":6},{"t":573,"c":8},{"t":578,"c":5},{"t":583,"c":9},{"t":588,"c":4},{"t":593,"c":7},{"t":598,"c":8},{"t":603,"c":5},{"t":608,"c":7},{"t":613,"c":4},{"t":618,"c":8},{"t":623,"c":5},{"t":628,"c":3},{"t":633,"c":6},{"t":638,"c":5}
    ],
    "fits": [
      {"p":1,"s":"P","t":116,"c":481},{"p":1,"s":"P","t":380,"c":103},{"p":1,"s":"P","t":640,"c":22.7},
      {"p":1,"s":"PE","t":116,"c":359},{"p":1,"s":"PE","t":380,"c":67.3},{"p":1,"s":"PE","t":640,"c":13.0},
      {"p":2,"s":"P","t":80,"c":1071},{"p":2,"s":"P","t":288,"c":100},{"p":2,"s":"P","t":400,"c":34.4},{"p":2,"s":"P","t":500,"c":14},{"p":2,"s":"P","t":640,"c":4.26},
      {"p":2,"s":"PE","t":80,"c":828},{"p":2,"s":"PE","t":288,"c":66.5},{"p":2,"s":"PE","t":467,"c":10.7},{"p":2,"s":"PE","t":640,"c":2.25},
      {"p":3,"s":"P","t":80,"c":1016},{"p":3,"s":"P","t":120,"c":645},{"p":3,"s":"P","t":200,"c":302},{"p":3,"s":"P","t":288,"c":135},{"p":3,"s":"P","t":388,"c":52.5},{"p":3,"s":"P","t":455,"c":29.5},{"p":3,"s":"P","t":550,"c":14.1},{"p":3,"s":"P","t":640,"c":6.87},
      {"p":3,"s":"PE","t":80,"c":832},{"p":3,"s":"PE","t":120,"c":525},{"p":3,"s":"PE","t":200,"c":234},{"p":3,"s":"PE","t":288,"c":97.7},{"p":3,"s":"PE","t":388,"c":35.2},{"p":3,"s":"PE","t":455,"c":18.4},{"p":3,"s":"PE","t":550,"c":8.5},{"p":3,"s":"PE","t":640,"c":4.15}
    ]
  },
  "vconcat": [
    {
      "width": 464,
      "height": 347,
      "encoding": {
        "x": {"field": "t", "type": "quantitative", "scale": {"domain": [16, 640], "nice": false, "zero": false},
          "axis": {"values": [50,100,150,200,250,300,350,400,450,500,550,600], "labels": false, "title": null, "tickSize": {"condition": {"test": "datum.value % 100 === 0", "value": 6}, "value": 3}}},
        "y": {"field": "c", "type": "quantitative", "scale": {"type": "log", "domain": [2.03, 9900], "nice": false},
          "axis": {"values": [2,3,4,5,6,7,8,9,10,20,30,40,50,60,70,80,90,100,200,300,400,500,600,700,800,900,1000,2000,3000,4000,5000,6000,7000,8000,9000], "labelExpr": "datum.value === 10 ? '10¹' : datum.value === 100 ? '10²' : datum.value === 1000 ? '10³' : ''", "labelFontSize": 18, "labelPadding": 3, "tickSize": {"condition": {"test": "datum.value === 10 || datum.value === 100 || datum.value === 1000", "value": 6}, "value": 3}, "title": "Counts", "titleFontSize": 22, "titlePadding": 4}}
      },
      "layer": [
        {"data": {"name": "a"}, "transform": [{"filter": "datum.t <= 56"}], "mark": {"type": "line", "color": "#404040", "strokeWidth": 3.5, "clip": true}},
        {"data": {"name": "a"}, "mark": {"type": "square", "color": "#404040", "size": 9, "opacity": 1, "clip": true}},
        {"data": {"name": "b"}, "transform": [{"filter": "datum.t <= 56"}], "mark": {"type": "line", "color": "#f23c3c", "strokeWidth": 3.5, "clip": true}},
        {"data": {"name": "b"}, "mark": {"type": "square", "color": "#f23c3c", "size": 9, "opacity": 1, "clip": true}},
        {"data": {"name": "fits"}, "transform": [{"filter": "datum.p === 1"}], "mark": {"type": "line", "color": "#1f9e55", "strokeWidth": 1.6, "clip": true}, "encoding": {"detail": {"field": "s"}}},
        {"data": {"values": [{"t": 630, "c": 5650, "txt": "λₑₓ = 442 nm; λₑₘ = 612 nm"}]}, "mark": {"type": "text", "align": "right", "baseline": "middle", "fontSize": 17, "color": "#111"}, "encoding": {"text": {"field": "txt"}}},
        {"data": {"values": [{"t": 294.5, "c": 575, "txt": "N0P"}]}, "mark": {"type": "text", "align": "left", "baseline": "middle", "fontSize": 21, "fontWeight": "bold", "color": "#4d4d4d"}, "encoding": {"text": {"field": "txt"}}},
        {"data": {"values": [{"t": 294.5, "c": 300, "txt": "τ₁ = 154.9±0.7μs"}]}, "mark": {"type": "text", "align": "left", "baseline": "middle", "fontSize": 16.5, "fontWeight": "bold", "color": "#4d4d4d"}, "encoding": {"text": {"field": "txt"}}},
        {"data": {"values": [{"t": 219, "c": 46.4, "txt": "N0PE"}]}, "mark": {"type": "text", "align": "left", "baseline": "middle", "fontSize": 21, "fontWeight": "bold", "color": "#f03c3c"}, "encoding": {"text": {"field": "txt"}}},
        {"data": {"values": [{"t": 219, "c": 24.2, "txt": "τ₁ = 142.7±0.7μs"}]}, "mark": {"type": "text", "align": "left", "baseline": "middle", "fontSize": 16.5, "fontWeight": "bold", "color": "#f03c3c"}, "encoding": {"text": {"field": "txt"}}}
      ]
    },
    {
      "width": 464,
      "height": 347,
      "encoding": {
        "x": {"field": "t", "type": "quantitative", "scale": {"domain": [16, 640], "nice": false, "zero": false},
          "axis": {"values": [50,100,150,200,250,300,350,400,450,500,550,600], "labels": false, "title": null, "tickSize": {"condition": {"test": "datum.value % 100 === 0", "value": 6}, "value": 3}}},
        "y": {"field": "c", "type": "quantitative", "scale": {"type": "log", "domain": [2.03, 9900], "nice": false},
          "axis": {"values": [2,3,4,5,6,7,8,9,10,20,30,40,50,60,70,80,90,100,200,300,400,500,600,700,800,900,1000,2000,3000,4000,5000,6000,7000,8000,9000], "labelExpr": "datum.value === 10 ? '10¹' : datum.value === 100 ? '10²' : datum.value === 1000 ? '10³' : ''", "labelFontSize": 18, "labelPadding": 3, "tickSize": {"condition": {"test": "datum.value === 10 || datum.value === 100 || datum.value === 1000", "value": 6}, "value": 3}, "title": "Counts", "titleFontSize": 22, "titlePadding": 4}}
      },
      "layer": [
        {"data": {"name": "c"}, "transform": [{"filter": "datum.t <= 56"}], "mark": {"type": "line", "color": "#404040", "strokeWidth": 3.5, "clip": true}},
        {"data": {"name": "c"}, "mark": {"type": "square", "color": "#404040", "size": 9, "opacity": 1, "clip": true}},
        {"data": {"name": "d"}, "transform": [{"filter": "datum.t <= 56"}], "mark": {"type": "line", "color": "#f23c3c", "strokeWidth": 3.5, "clip": true}},
        {"data": {"name": "d"}, "mark": {"type": "square", "color": "#f23c3c", "size": 9, "opacity": 1, "clip": true}},
        {"data": {"name": "fits"}, "transform": [{"filter": "datum.p === 2"}], "mark": {"type": "line", "color": "#1f9e55", "strokeWidth": 1.6, "clip": true}, "encoding": {"detail": {"field": "s"}}},
        {"data": {"values": [{"t": 630, "c": 5940, "txt": "λₑₓ = 449 nm; λₑₘ = 612 nm"}]}, "mark": {"type": "text", "align": "right", "baseline": "middle", "fontSize": 17, "color": "#111"}, "encoding": {"text": {"field": "txt"}}},
        {"data": {"values": [{"t": 282, "c": 431, "txt": "N10P"}]}, "mark": {"type": "text", "align": "left", "baseline": "middle", "fontSize": 21, "fontWeight": "bold", "color": "#4d4d4d"}, "encoding": {"text": {"field": "txt"}}},
        {"data": {"values": [{"t": 280, "c": 222, "txt": "τ₁ = 78.2±0.3 μs"}]}, "mark": {"type": "text", "align": "left", "baseline": "middle", "fontSize": 16.5, "fontWeight": "bold", "color": "#4d4d4d"}, "encoding": {"text": {"field": "txt"}}},
        {"data": {"values": [{"t": 162.6, "c": 39.2, "txt": "N10PE"}]}, "mark": {"type": "text", "align": "left", "baseline": "middle", "fontSize": 21, "fontWeight": "bold", "color": "#f03c3c"}, "encoding": {"text": {"field": "txt"}}},
        {"data": {"values": [{"t": 162.6, "c": 20.4, "txt": "τ₁ = 72.0±0.3 μs"}]}, "mark": {"type": "text", "align": "left", "baseline": "middle", "fontSize": 16.5, "fontWeight": "bold", "color": "#f03c3c"}, "encoding": {"text": {"field": "txt"}}}
      ]
    },
    {
      "width": 464,
      "height": 347,
      "encoding": {
        "x": {"field": "t", "type": "quantitative", "scale": {"domain": [16, 640], "nice": false, "zero": false},
          "axis": {"values": [50,100,150,200,250,300,350,400,450,500,550,600], "labelExpr": "datum.value % 100 === 0 ? datum.label : ''", "labelFontSize": 16, "labelPadding": 3, "title": "Time (μs)", "titleFontSize": 22, "titlePadding": 8, "tickSize": {"condition": {"test": "datum.value % 100 === 0", "value": 6}, "value": 3}}},
        "y": {"field": "c", "type": "quantitative", "scale": {"type": "log", "domain": [2.03, 9900], "nice": false},
          "axis": {"values": [2,3,4,5,6,7,8,9,10,20,30,40,50,60,70,80,90,100,200,300,400,500,600,700,800,900,1000,2000,3000,4000,5000,6000,7000,8000,9000], "labelExpr": "datum.value === 10 ? '10¹' : datum.value === 100 ? '10²' : datum.value === 1000 ? '10³' : ''", "labelFontSize": 18, "labelPadding": 3, "tickSize": {"condition": {"test": "datum.value === 10 || datum.value === 100 || datum.value === 1000", "value": 6}, "value": 3}, "title": "Counts", "titleFontSize": 22, "titlePadding": 4}}
      },
      "layer": [
        {"data": {"name": "e"}, "transform": [{"filter": "datum.t <= 56"}], "mark": {"type": "line", "color": "#404040", "strokeWidth": 3.5, "clip": true}},
        {"data": {"name": "e"}, "mark": {"type": "square", "color": "#404040", "size": 9, "opacity": 1, "clip": true}},
        {"data": {"name": "f"}, "transform": [{"filter": "datum.t <= 56"}], "mark": {"type": "line", "color": "#f23c3c", "strokeWidth": 3.5, "clip": true}},
        {"data": {"name": "f"}, "mark": {"type": "square", "color": "#f23c3c", "size": 9, "opacity": 1, "clip": true}},
        {"data": {"name": "fits"}, "transform": [{"filter": "datum.p === 3"}], "mark": {"type": "line", "color": "#1f9e55", "strokeWidth": 1.6, "clip": true}, "encoding": {"detail": {"field": "s"}}},
        {"data": {"values": [{"t": 630, "c": 6300, "txt": "λₑₓ = 449 nm; λₑₘ = 612 nm"}]}, "mark": {"type": "text", "align": "right", "baseline": "middle", "fontSize": 17, "color": "#111"}, "encoding": {"text": {"field": "txt"}}},
        {"data": {"values": [{"t": 267.7, "c": 396, "txt": "GC10P"}]}, "mark": {"type": "text", "align": "left", "baseline": "middle", "fontSize": 21, "fontWeight": "bold", "color": "#4d4d4d"}, "encoding": {"text": {"field": "txt"}}},
        {"data": {"values": [{"t": 267.7, "c": 205, "txt": "τ₁ = 76.7±0.3 μs"}]}, "mark": {"type": "text", "align": "left", "baseline": "middle", "fontSize": 16.5, "fontWeight": "bold", "color": "#4d4d4d"}, "encoding": {"text": {"field": "txt"}}},
        {"data": {"values": [{"t": 167, "c": 35, "txt": "GC10PE"}]}, "mark": {"type": "text", "align": "left", "baseline": "middle", "fontSize": 21, "fontWeight": "bold", "color": "#f03c3c"}, "encoding": {"text": {"field": "txt"}}},
        {"data": {"values": [{"t": 167, "c": 18.2, "txt": "τ₁ = 71.1±0.4 μs"}]}, "mark": {"type": "text", "align": "left", "baseline": "middle", "fontSize": 16.5, "fontWeight": "bold", "color": "#f03c3c"}, "encoding": {"text": {"field": "txt"}}}
      ]
    }
  ]
}
